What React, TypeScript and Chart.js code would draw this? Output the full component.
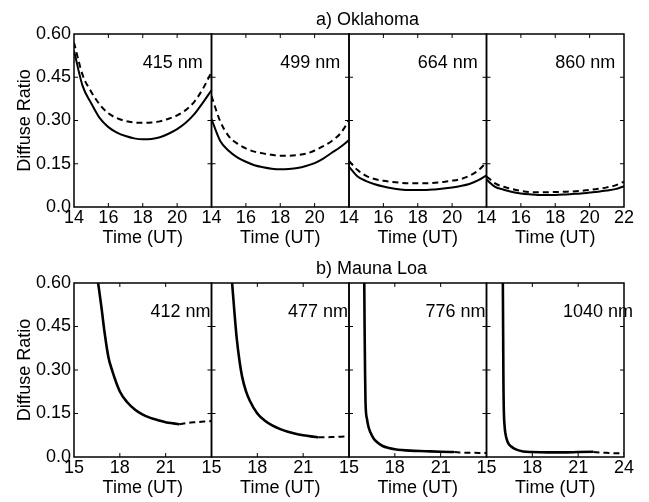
import React, { useEffect, useRef } from "react";
import { Chart, registerables } from "chart.js";

Chart.register(...registerables);

const FONT = "'Liberation Sans', Arial, Helvetica, sans-serif";

// ---------------- a) Oklahoma ----------------
const okTimes = [14, 14.5, 15, 15.5, 16, 16.5, 17, 17.5, 18, 18.5, 19, 19.5, 20, 20.5, 21, 21.5, 22];
const okLabels = ["415 nm", "499 nm", "664 nm", "860 nm"];
const ok415Solid = [0.542, 0.42, 0.36, 0.308, 0.277, 0.258, 0.246, 0.238, 0.235, 0.236, 0.242, 0.254, 0.27, 0.292, 0.322, 0.362, 0.405];
const ok415Dashed = [0.57, 0.458, 0.4, 0.355, 0.325, 0.308, 0.298, 0.293, 0.292, 0.293, 0.297, 0.306, 0.318, 0.336, 0.365, 0.41, 0.468];
const ok499Solid = [0.305, 0.23, 0.195, 0.172, 0.157, 0.145, 0.138, 0.133, 0.131, 0.132, 0.135, 0.142, 0.152, 0.168, 0.188, 0.208, 0.232];
const ok499Dashed = [0.385, 0.298, 0.246, 0.22, 0.203, 0.192, 0.186, 0.181, 0.178, 0.178, 0.18, 0.185, 0.196, 0.211, 0.229, 0.255, 0.3];
const ok664Solid = [0.14, 0.106, 0.09, 0.079, 0.071, 0.065, 0.061, 0.059, 0.059, 0.059, 0.061, 0.064, 0.068, 0.073, 0.08, 0.092, 0.11];
const ok664Dashed = [0.16, 0.128, 0.108, 0.097, 0.091, 0.087, 0.084, 0.082, 0.082, 0.082, 0.084, 0.087, 0.091, 0.097, 0.108, 0.126, 0.155];
const ok860Solid = [0.095, 0.07, 0.06, 0.052, 0.047, 0.044, 0.042, 0.042, 0.042, 0.043, 0.045, 0.047, 0.05, 0.053, 0.057, 0.062, 0.072];
const ok860Dashed = [0.106, 0.082, 0.07, 0.062, 0.056, 0.052, 0.051, 0.051, 0.052, 0.053, 0.054, 0.056, 0.059, 0.063, 0.068, 0.075, 0.088];
const okXMin = 14;
const okXMax = 22;
const okXStep = 2;

// ---------------- b) Mauna Loa ----------------
const mlLabels = ["412 nm", "477 nm", "776 nm", "1040 nm"];
const ml412SolidT = [16.58, 16.8, 17.0, 17.25, 17.5, 18.0, 18.5, 19.0, 19.5, 20.0, 20.5, 21.0, 21.5, 21.9];
const ml412SolidV = [0.6, 0.515, 0.43, 0.345, 0.298, 0.226, 0.188, 0.163, 0.146, 0.135, 0.127, 0.12, 0.116, 0.113];
const ml412DashedT = [21.9, 22.5, 23.0, 23.5, 24.0];
const ml412DashedV = [0.113, 0.118, 0.12, 0.122, 0.124];
const ml477SolidT = [16.35, 16.5, 16.65, 16.85, 17.0, 17.25, 17.5, 18.0, 18.5, 19.0, 19.5, 20.0, 20.5, 21.0, 21.5, 22.0];
const ml477SolidV = [0.6, 0.5, 0.41, 0.325, 0.278, 0.228, 0.195, 0.15, 0.125, 0.108, 0.096, 0.087, 0.08, 0.075, 0.071, 0.068];
const ml477DashedT = [22.0, 22.5, 23.0, 23.5, 24.0];
const ml477DashedV = [0.068, 0.068, 0.069, 0.07, 0.071];
const ml776SolidT = [16.0, 16.02, 16.05, 16.08, 16.18, 16.27, 16.4, 16.6, 16.85, 17.2, 17.6, 18.0, 19.0, 20.0, 21.0, 21.9];
const ml776SolidV = [0.6, 0.45, 0.3, 0.19, 0.13, 0.105, 0.085, 0.065, 0.051, 0.038, 0.031, 0.027, 0.022, 0.02, 0.018, 0.017];
const ml776DashedT = [21.9, 22.5, 23.0, 23.5, 24.0];
const ml776DashedV = [0.017, 0.015, 0.015, 0.014, 0.014];
const ml1040SolidT = [16.07, 16.09, 16.11, 16.14, 16.18, 16.23, 16.4, 16.6, 16.85, 17.4, 18.0, 19.0, 20.0, 21.0, 22.0];
const ml1040SolidV = [0.6, 0.42, 0.25, 0.15, 0.11, 0.083, 0.05, 0.037, 0.028, 0.019, 0.017, 0.016, 0.016, 0.017, 0.018];
const ml1040DashedT = [22.0, 22.5, 23.0, 23.5, 24.0];
const ml1040DashedV = [0.017, 0.015, 0.014, 0.013, 0.013];
const mlXMin = 15;
const mlXMax = 24;
const mlXStep = 3;

// shared y axis
const yMin = 0;
const yMax = 0.6;
const yStep = 0.15;

type Series = { t: number[]; v: number[]; dashed: boolean; panel: number };

const okSeries: Series[] = [
  { t: okTimes, v: ok415Solid, dashed: false, panel: 0 },
  { t: okTimes, v: ok499Solid, dashed: false, panel: 1 },
  { t: okTimes, v: ok664Solid, dashed: false, panel: 2 },
  { t: okTimes, v: ok860Solid, dashed: false, panel: 3 },
  { t: okTimes, v: ok415Dashed, dashed: true, panel: 0 },
  { t: okTimes, v: ok499Dashed, dashed: true, panel: 1 },
  { t: okTimes, v: ok664Dashed, dashed: true, panel: 2 },
  { t: okTimes, v: ok860Dashed, dashed: true, panel: 3 },
];

const mlSeries: Series[] = [
  { t: ml412SolidT, v: ml412SolidV, dashed: false, panel: 0 },
  { t: ml477SolidT, v: ml477SolidV, dashed: false, panel: 1 },
  { t: ml776SolidT, v: ml776SolidV, dashed: false, panel: 2 },
  { t: ml1040SolidT, v: ml1040SolidV, dashed: false, panel: 3 },
  { t: ml412DashedT, v: ml412DashedV, dashed: true, panel: 0 },
  { t: ml477DashedT, v: ml477DashedV, dashed: true, panel: 1 },
  { t: ml776DashedT, v: ml776DashedV, dashed: true, panel: 2 },
  { t: ml1040DashedT, v: ml1040DashedV, dashed: true, panel: 3 },
];

const panelPlugin = {
  id: "panelDecor",
  afterDatasetsDraw(chart: any, _args: any, opts: any) {
    const { ctx, chartArea } = chart;
    const ys = chart.scales.y;
    const top = chartArea.top;
    const bottom = chartArea.bottom;
    ctx.save();
    ctx.strokeStyle = "#000";
    ctx.fillStyle = "#000";
    const line = (x1: number, y1: number, x2: number, y2: number) => {
      ctx.beginPath();
      ctx.moveTo(x1, y1);
      ctx.lineTo(x2, y2);
      ctx.stroke();
    };
    ["x0", "x1", "x2", "x3"].forEach((id, i) => {
      const s = chart.scales[id];
      ctx.lineWidth = 1.5;
      ctx.strokeRect(s.left, top, s.right - s.left, bottom - top);
      ctx.lineWidth = 1;
      s.ticks.forEach((tk: any) => {
        const px = s.getPixelForValue(tk.value);
        if (px <= s.left + 1 || px >= s.right - 1) return;
        line(px, bottom, px, bottom - 4);
        line(px, top, px, top + 4);
      });
      ys.ticks.forEach((tk: any) => {
        const py = ys.getPixelForValue(tk.value);
        if (py <= top + 1 || py >= bottom - 1) return;
        line(s.left, py, s.left + 4, py);
        line(s.right, py, s.right - 4, py);
      });
      ctx.font = `18px ${FONT}`;
      ctx.textAlign = "left";
      ctx.textBaseline = "middle";
      ctx.fillText(opts.labels[i], s.getPixelForValue(opts.labelX), ys.getPixelForValue(opts.labelY));
    });
    ctx.font = `18px ${FONT}`;
    ctx.textAlign = "left";
    ctx.textBaseline = "middle";
    ctx.fillText(opts.title, chartArea.left + opts.titleOffset, top - 14);
    ctx.restore();
  },
};

function makeConfig(
  series: Series[],
  xMin: number,
  xMax: number,
  xStep: number,
  axisHeight: number,
  titlePadBottom: number,
  padTop: number,
  title: string,
  labels: string[],
  labelX: number,
  thick: number
): any {
  const datasets = series.map((s) => ({
    data: s.t.map((t, k) => ({ x: t, y: s.v[k] })),
    xAxisID: `x${s.panel}`,
    yAxisID: "y",
    borderColor: "#000",
    borderWidth: s.dashed ? 2 : thick,
    borderDash: s.dashed ? [6, 4] : [],
    pointRadius: 0,
    fill: false,
    cubicInterpolationMode: "monotone",
  }));
  const tickFont = { family: FONT, size: 18 };
  const scales: any = {
    y: {
      type: "linear",
      position: "left",
      min: yMin,
      max: yMax,
      ticks: {
        stepSize: yStep,
        padding: 3,
        color: "#000",
        font: tickFont,
        callback: (v: number) => (v === 0 ? "0.0" : Number(v).toFixed(2)),
      },
      grid: { display: false, drawTicks: false },
      border: { display: false },
      title: {
        display: true,
        text: "Diffuse Ratio",
        color: "#000",
        font: tickFont,
        padding: { top: 14, bottom: 0 },
      },
      afterFit: (s: any) => {
        s.width = 74;
        s.paddingTop = 0;
        s.paddingBottom = 0;
      },
    },
  };
  for (let i = 0; i < 4; i++) {
    scales[`x${i}`] = {
      type: "linear",
      position: "bottom",
      stack: "row",
      stackWeight: 1,
      min: xMin,
      max: xMax,
      ticks: {
        stepSize: xStep,
        autoSkip: false,
        maxRotation: 0,
        minRotation: 0,
        padding: 0,
        color: "#000",
        font: tickFont,
        callback: (v: number) => (i < 3 && v === xMax ? "" : String(v)),
      },
      grid: { display: false, drawTicks: false },
      border: { display: false },
      title: {
        display: true,
        text: "Time (UT)",
        color: "#000",
        font: tickFont,
        padding: { top: 0, bottom: titlePadBottom },
      },
      afterFit: (s: any) => {
        s.height = axisHeight;
        s.paddingLeft = 0;
        s.paddingRight = 0;
      },
    };
  }
  return {
    type: "line",
    data: { datasets },
    options: {
      animation: false,
      responsive: true,
      maintainAspectRatio: false,
      events: [],
      layout: { padding: { top: padTop, right: 25, left: 0, bottom: 0 } },
      plugins: {
        legend: { display: false },
        tooltip: { enabled: false },
        panelDecor: { title, labels, labelX, labelY: 0.5, titleOffset: 242 },
      },
      scales,
    },
    plugins: [panelPlugin],
  };
}

function RowChart({ top, height, config }: { top: number; height: number; config: () => any }) {
  const ref = useRef<HTMLCanvasElement>(null);
  useEffect(() => {
    const chart = new Chart(ref.current as HTMLCanvasElement, config());
    return () => chart.destroy();
  }, []);
  return (
    <div style={{ position: "absolute", left: 0, top, width: 649, height }}>
      <canvas ref={ref} />
    </div>
  );
}

export default function App() {
  return (
    <div style={{ position: "absolute", left: 0, top: 0, width: 649, height: 502, background: "#fff" }}>
      <RowChart
        top={0}
        height={250}
        config={() => makeConfig(okSeries, okXMin, okXMax, okXStep, 43, 1, 34, "a) Oklahoma", okLabels, 18, 2)}
      />
      <RowChart
        top={250}
        height={252}
        config={() => makeConfig(mlSeries, mlXMin, mlXMax, mlXStep, 45, 3, 33, "b) Mauna Loa", mlLabels, 20, 2.6)}
      />
    </div>
  );
}
